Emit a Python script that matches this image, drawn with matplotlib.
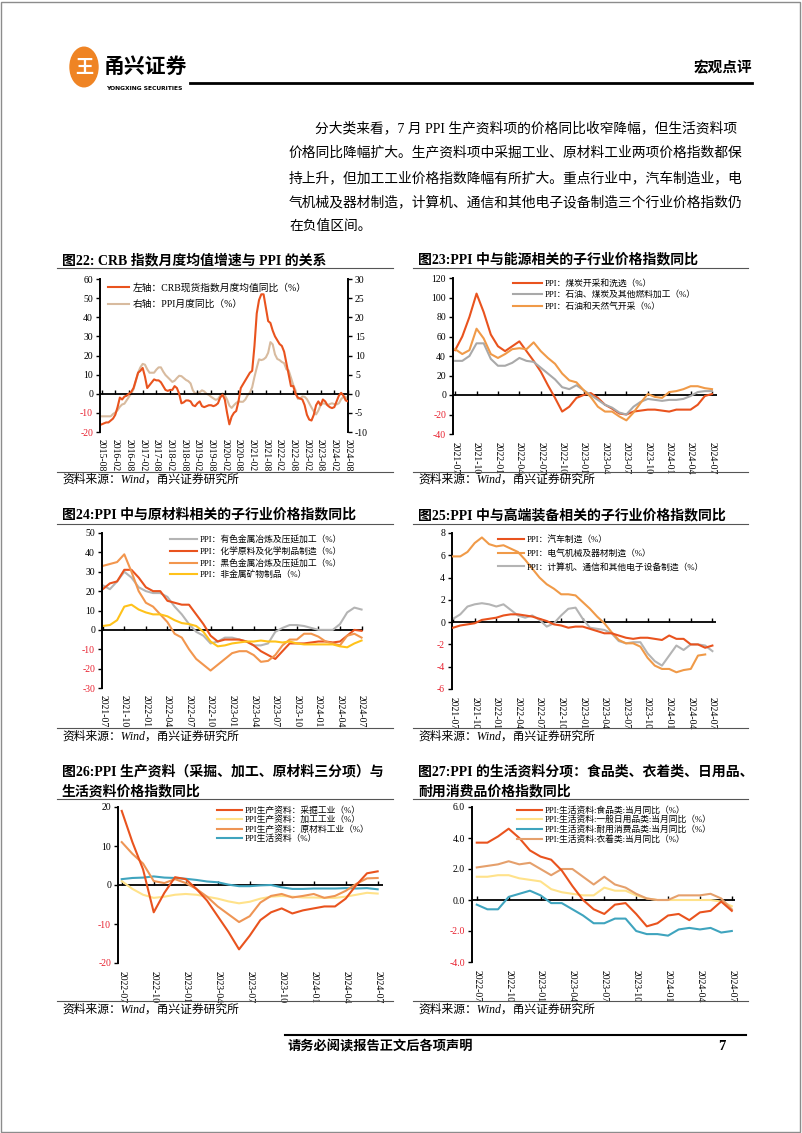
import matplotlib
matplotlib.use('Agg')
import matplotlib.pyplot as plt
import numpy as np
from matplotlib.font_manager import FontProperties
from matplotlib.patches import Circle, Rectangle
from matplotlib.lines import Line2D

W, H = 802, 1133
FONTS = ['Liberation Serif', 'Noto Sans CJK SC']
plt.rcParams['font.family'] = FONTS
plt.rcParams['axes.unicode_minus'] = False

RED = '#E9531E'
TAN = '#D8BB9F'
GRAY = '#A9A9A9'
ORANGE = '#F09A48'
ORANGE2 = '#EE9555'
YELLOW = '#FFC21A'
LYELLOW = '#FFE28A'
TEAL = '#3FA4BE'
NEG = '#E8202E'

# ---------------- data ----------------
# 图22: monthly 2015-08 .. 2024-08
crb_yoy = [-16, -15.5, -15, -15, -14,
           -13, -11, -7, -2, -3, -1.5, -1, 0, 1, 3, 7, 11,
           12, 13.5, 9, 3, 4.5, 6, 7.5, 7, 7, 6, 4, 2,
           1.5, 2, 2, 4, 3, 0, -5, -4.5, -3.5, -3.5, -4, -6,
           -6.5, -5, -4, -6.5, -7, -6.5, -6, -6, -6.5, -6, -5, -2,
           -0.5, -3, -10, -16, -12, -10, -9, -4, 3, 5, 7, 9,
           11, 12, 25, 42, 49, 52, 52, 45, 38, 37, 33, 30,
           28, 26, 25, 22, 16, 10, 4, 4, 0, -2, -2.5, -3,
           -6, -11, -13.5, -14, -11, -6, -4, -6, -3, -4, -6, -7,
           -7.5, -7, -4, -1, 0.5, -1, -3.5, -4]
ppi_yoy = [-5.9, -5.9, -5.9, -5.9, -5.9,
           -5.3, -4.9, -4.3, -3.4, -2.8, -2.6, -1.7, -0.8, 0.1, 1.2, 3.3, 5.5,
           6.9, 7.8, 7.6, 6.4, 5.5, 5.5, 5.5, 6.3, 6.9, 6.9, 5.8, 4.9,
           4.3, 3.7, 3.1, 3.4, 4.1, 4.7, 4.6, 4.1, 3.6, 3.3, 2.7, 0.9,
           0.1, 0.1, 0.4, 0.9, 0.6, 0.0, -0.3, -0.8, -1.2, -1.6, -1.4, -0.5,
           0.1, -0.4, -1.5, -3.1, -3.7, -3.0, -2.4, -2.0, -2.1, -2.1, -1.5, -0.4,
           0.3, 1.7, 4.4, 6.8, 9.0, 8.8, 9.0, 9.5, 10.7, 13.5, 12.9, 10.3,
           9.1, 8.8, 8.3, 8.0, 6.4, 6.1, 4.2, 2.3, 0.9, -1.3, -1.3, -0.7,
           -0.8, -1.4, -2.5, -3.6, -4.6, -5.4, -4.4, -3.0, -2.5, -2.6, -3.0, -2.7,
           -2.5, -2.7, -2.8, -2.5, -1.4, -0.8, -0.8, -1.8]
labels22 = ['2015-08', '2016-02', '2016-08', '2017-02', '2017-08', '2018-02', '2018-08',
            '2019-02', '2019-08', '2020-02', '2020-08', '2021-02', '2021-08', '2022-02',
            '2022-08', '2023-02', '2023-08', '2024-02', '2024-08']

# 图23-25: monthly 2021-07 .. 2024-07
labels_21 = ['2021-07', '2021-10', '2022-01', '2022-04', '2022-07', '2022-10', '2023-01',
             '2023-04', '2023-07', '2023-10', '2024-01', '2024-04', '2024-07']
coal = [46, 60, 80, 104, 85, 62,
        50, 45, 50, 55, 45, 35, 24, 10, -3, -17, -12, -3,
        0, 2, -3, -10, -14, -19, -20, -17, -16, -15, -15, -16,
        -17, -15, -15, -15, -10, -1, 1]
petro_proc = [35, 35, 40, 53, 53, 37,
              30, 30, 33, 38, 35, 34, 28, 22, 16, 8, 6, 10,
              5, 0, -5, -10, -13, -18, -20, -12, -7, -4, -5, -6,
              -5, -5, -4, -1, 3, 4, 4]
oil_gas = [47, 42, 46, 68, 58, 42,
           38, 42, 47, 48, 47, 54, 45, 38, 32, 22, 15, 13,
           5, -2, -12, -17, -17, -22, -26, -18, -8, 1, -2, -3,
           3, 4, 6, 9, 9, 7, 6]

nonferrous = [23, 21, 25, 30, 27, 22,
              20, 19, 19, 17, 12, 8, 3, -1, -3, -7, -6, -4,
              -4, -5, -6, -8, -8, -7, -1, 1, 2.5, 2.5, 2, 1,
              0, 0, 0, 3, 9, 11.5, 10.5]
chemical = [21, 24, 25, 31, 31, 27,
            22, 20, 20, 15, 14, 13, 13, 8, 3, -3, -6, -5,
            -5, -5, -6, -8, -11, -13, -15, -11, -7, -7, -7, -6.5,
            -6, -6, -6.5, -6, -3, 0, -0.5]
ferrous = [33, 34, 35, 39, 30, 20,
           14, 12, 8, 4, -2, -4, -10, -15, -18, -21, -18, -15,
           -12, -11, -11, -13, -16.5, -16, -13, -8, -5, -5, -2, -2,
           -3.5, -6, -7, -8, -3, -2, -4]
nonmetal = [2, 2.5, 5, 12, 13, 10.5,
            9, 8, 8, 7, 5, 3.5, 3, 2, -1, -6, -8.5, -8,
            -7, -6.5, -6, -6, -5.5, -6, -6, -6.5, -6, -7, -7.5, -7.5,
            -7.5, -7.5, -7.5, -8.5, -9, -7, -5.5]

auto = [-0.5, -0.3, -0.2, -0.1, 0.2, 0.3,
        0.4, 0.6, 0.7, 0.7, 0.6, 0.5, 0.3, 0.1, -0.2, -0.3, -0.5, -0.4,
        -0.4, -0.6, -0.8, -1.0, -1.0, -1.2, -1.4, -1.5, -1.4, -1.4, -1.5, -1.6,
        -1.2, -1.5, -1.5, -2.0, -2.0, -2.3, -2.1]
electrical = [5.9, 5.9, 6.3, 7.1, 7.6, 7.0,
              6.8, 6.9, 6.6, 6.3, 5.6, 4.8, 4.0, 3.4, 3.0, 2.5, 2.5, 2.4,
              1.8, 1.2, 0.5, -0.1, -0.9, -1.6, -1.9, -1.9, -2.2, -3.2, -3.9, -4.2,
              -4.2, -4.5, -4.3, -4.2, -3.0, -2.9, np.nan]
computer = [0.3, 0.7, 1.4, 1.6, 1.7, 1.6,
            1.4, 1.6, 1.1, 0.6, 0.4, 0.6, 0.2, -0.4, -0.1, 0.6, 1.2, 1.3,
            0.3, -0.5, -0.6, -0.7, -1.0, -1.7, -1.9, -1.8, -1.8, -2.8, -3.5, -3.9,
            -3.0, -2.1, -2.5, -2.0, -2.0, -2.1, -2.6]

# 图26-27: monthly 2022-07 .. 2024-07
labels_22 = ['2022-07', '2022-10', '2023-01', '2023-04', '2023-07', '2023-10',
             '2024-01', '2024-04', '2024-07']
mining = [19, 11, 4, -7, -2, 2, 1.5, -1, -4, -8, -12, -16.5, -13,
          -9, -7, -6, -7.3, -6.5, -6, -5.5, -5.5, -3.5, 0, 3, 3.5]
processing = [1, -1, -2.5, -3.3, -3, -2.5, -2.3, -2.5, -3, -3.5, -4.2, -4.7, -4.3,
              -3.5, -3, -2.8, -3, -3.2, -3.2, -3.3, -3.3, -3, -2.5, -2, -2.2]
raw_mat = [11, 8, 5.5, 1, 0.5, 1.5, 0.5, -1, -3, -5.5, -7.5, -9.5, -8,
           -4.5, -2.8, -2.3, -3.2, -2.8, -2.3, -3.3, -2.8, -1.5, 0.3, 1.7, 1.8]
consumer = [1.5, 1.8, 1.9, 2.2, 1.9, 1.8, 1.6, 1.3, 0.9, 0.7, 0.1, -0.3, -0.3,
            -0.1, 0.0, -0.6, -1.0, -1.0, -0.9, -0.9, -0.9, -0.8, -0.9, -0.8, -1.1]

food = [3.7, 3.7, 4.1, 4.6, 4.0, 3.2, 2.8, 2.6, 1.9, 0.9, 0.0, -0.6, -0.9,
        -0.3, -0.2, -0.9, -1.7, -1.5, -1.0, -0.9, -1.3, -0.8, -0.7, -0.1, -0.7]
daily = [1.5, 1.5, 1.6, 1.6, 1.4, 1.3, 1.2, 0.7, 0.5, 0.4, 0.3, 0.3, 0.8,
         0.6, 0.6, 0.3, 0.1, 0.0, 0.0, 0.0, 0.0, 0.0, 0.0, -0.1, -0.4]
durable = [-0.3, -0.6, -0.6, 0.2, 0.4, 0.6, 0.3, -0.2, -0.2, -0.6, -1.0, -1.5, -1.5,
           -1.2, -1.2, -2.0, -2.2, -2.2, -2.3, -1.9, -1.8, -1.9, -1.8, -2.1, -2.0]
clothing = [2.1, 2.2, 2.3, 2.5, 2.3, 2.4, 2.0, 1.6, 2.0, 2.0, 1.5, 1.0, 1.5,
            1.0, 0.8, 0.4, 0.1, 0.0, 0.0, 0.3, 0.3, 0.3, 0.4, 0.1, -0.6]

# ---------------- figure ----------------
fig = plt.figure(figsize=(W / 100, H / 100), dpi=100)


def px_axes(l, t, r, b):
    return fig.add_axes([l / W, 1 - b / H, (r - l) / W, (b - t) / H])


def ftext(x, y, s, **kw):
    kw.setdefault('va', 'center')
    fig.text(x / W, 1 - y / H, s, **kw)


def hline(x0, x1, y, lw=0.8, color='black'):
    fig.add_artist(Line2D([x0 / W, x1 / W], [1 - y / H, 1 - y / H], lw=lw, color=color))


def setup(ax, n, xlim, ylim, ystep, label_step, xlabels, fmt='{:g}', xpad=5):
    ax.set_xlim(*xlim)
    ax.set_ylim(*ylim)
    ax.patch.set_visible(False)
    for s in ['top', 'right', 'bottom']:
        ax.spines[s].set_visible(False)
    ax.spines['left'].set_linewidth(1.4)
    yt = np.arange(ylim[0], ylim[1] + ystep / 2, ystep)
    ax.set_yticks(yt)
    ax.set_yticklabels([fmt.format(v) for v in yt])
    ax.tick_params(axis='y', direction='out', length=3, width=1, labelsize=7, pad=2)
    for lab, v in zip(ax.get_yticklabels(), yt):
        if v < 0:
            lab.set_color(NEG)
    xt = np.arange(0, n, label_step)
    ax.set_xticks(xt)
    ax.set_xticklabels(xlabels, rotation=-90, fontsize=7)
    ax.tick_params(axis='x', length=0, pad=xpad)
    ax.axhline(0, color='black', lw=1.3, zorder=1)
    ax.plot(xt, np.zeros(len(xt)), ls='none', marker=2, ms=3, mew=1, color='black',
            zorder=1, clip_on=False)


def legend(ax, handles, labels, x, y, hl, spacing, size=6.3):
    ax.legend(handles, labels, loc='upper left', bbox_to_anchor=(x / W, 1 - y / H),
              bbox_transform=fig.transFigure, frameon=False, handlelength=hl,
              handletextpad=0.3, labelspacing=spacing, borderpad=0, borderaxespad=0,
              prop=FontProperties(family=FONTS, size=size))


LW = 1.5

# page border
fig.add_artist(Rectangle((1 / W, 1 / H), 799 / W, 1130 / H, transform=fig.transFigure,
                         fill=False, ec='#8c8c8c', lw=1))

# header
fig.add_artist(Circle((84 / W, 1 - 67 / H), 14 / W, transform=fig.transFigure,
                      color='#EF8424'))
ftext(84, 67, '王', ha='center', color='white', fontsize=13, fontweight='bold',
      family='Noto Sans CJK SC')
ftext(104, 66, '甬兴证券', fontsize=15, fontweight='bold', family='Noto Sans CJK SC')
ftext(106, 89, 'YONGXING SECURITIES', fontsize=4.3, fontweight='bold', family='DejaVu Sans')
hline(190, 752, 83, lw=2)
ftext(752, 68, '宏观点评', ha='right', fontsize=10.5, fontweight='bold')

# paragraph
para = ['分大类来看，7 月 PPI 生产资料项的价格同比收窄降幅，但生活资料项',
        '价格同比降幅扩大。生产资料项中采掘工业、原材料工业两项价格指数都保',
        '持上升，但加工工业价格指数降幅有所扩大。重点行业中，汽车制造业，电',
        '气机械及器材制造，计算机、通信和其他电子设备制造三个行业价格指数仍',
        '在负值区间。']
para_y = [128, 153, 178, 202, 226]
for i, (s, yy) in enumerate(zip(para, para_y)):
    ftext(315 if i == 0 else 289, yy, s, fontsize=9.9)

# titles, rules, sources
TSZ = 10
ftext(62, 260, '图22: CRB 指数月度均值增速与 PPI 的关系', fontsize=TSZ, fontweight='bold')
ftext(418, 260, '图23:PPI 中与能源相关的子行业价格指数同比', fontsize=TSZ, fontweight='bold')
ftext(62, 515, '图24:PPI 中与原材料相关的子行业价格指数同比', fontsize=TSZ, fontweight='bold')
ftext(418, 515, '图25:PPI 中与高端装备相关的子行业价格指数同比', fontsize=TSZ, fontweight='bold')
ftext(62, 772, '图26:PPI 生产资料（采掘、加工、原材料三分项）与', fontsize=TSZ, fontweight='bold')
ftext(62, 792, '生活资料价格指数同比', fontsize=TSZ, fontweight='bold')
ftext(418, 772, '图27:PPI 的生活资料分项：食品类、衣着类、日用品、', fontsize=TSZ, fontweight='bold')
ftext(418, 792, '耐用消费品价格指数同比', fontsize=TSZ, fontweight='bold')
for yy in (268, 524, 799):
    hline(57, 393, yy, lw=0.8, color='#555555')
    hline(413, 748, yy, lw=0.8, color='#555555')
for yy, ty in ((472, 480), (728, 737), (1001, 1010)):
    hline(57, 393, yy, lw=0.8, color='#555555')
    hline(413, 748, yy, lw=0.8, color='#555555')
    ftext(62, ty, '资料来源：Wind，甬兴证券研究所', fontsize=8.5, style='italic')
    ftext(418, ty, '资料来源：Wind，甬兴证券研究所', fontsize=8.5, style='italic')

# footer
hline(285, 746, 1035, lw=1.5)
ftext(288, 1047, '请务必阅读报告正文后各项声明', fontsize=9.5, fontweight='bold')
ftext(718, 1047, '7', fontsize=10.5, fontweight='bold')

# ---------- 图22 ----------
ax = px_axes(100, 279, 348, 432)
x22 = np.arange(len(crb_yoy))
setup(ax, len(crb_yoy), (-0.7, 108), (-20, 60), 10, 6, labels22)
ax2 = ax.twinx()
ax2.set_ylim(-10, 30)
ax2.set_yticks(np.arange(-10, 31, 5))
for s in ['top', 'left', 'bottom']:
    ax2.spines[s].set_visible(False)
ax2.spines['right'].set_linewidth(1.4)
ax2.tick_params(axis='y', direction='out', length=3, width=1, labelsize=7, pad=2)
ax.set_zorder(ax2.get_zorder() + 1)
h2, = ax2.plot(x22, ppi_yoy, color=TAN, lw=LW)
h1, = ax.plot(x22, crb_yoy, color=RED, lw=LW)
legend(ax, [h1, h2], ['左轴：CRB现货指数月度均值同比（%）', '右轴：PPI月度同比（%）'],
       108, 283, 2.2, 0.7, size=7)

# ---------- 图23 ----------
ax = px_axes(453, 278, 717, 434)
x = np.arange(len(coal))
setup(ax, len(coal), (-0.3, 36.7), (-40, 120), 20, 3, labels_21, xpad=6)
ha, = ax.plot(x, coal, color=RED, lw=LW)
hb, = ax.plot(x, petro_proc, color=GRAY, lw=LW)
hc, = ax.plot(x, oil_gas, color=ORANGE, lw=LW)
legend(ax, [ha, hb, hc], ['PPI：煤炭开采和洗选（%）', 'PPI：石油、煤炭及其他燃料加工（%）',
                          'PPI：石油和天然气开采（%）'], 513, 279, 3.3, 0.35)

# ---------- 图24 ----------
ax = px_axes(102, 533, 363, 688)
setup(ax, len(chemical), (-0.1, 36.2), (-30, 50), 10, 3, labels_21, xpad=5)
ha, = ax.plot(x, nonferrous, color='#B4B4B4', lw=LW)
hb, = ax.plot(x, chemical, color=RED, lw=LW)
hc, = ax.plot(x, ferrous, color='#F2964E', lw=LW)
hd, = ax.plot(x, nonmetal, color=YELLOW, lw=LW)
legend(ax, [ha, hb, hc, hd], ['PPI：有色金属冶炼及压延加工（%）', 'PPI：化学原料及化学制品制造（%）',
                              'PPI：黑色金属冶炼及压延加工（%）', 'PPI：非金属矿物制品（%）'],
       170, 535, 3.1, 0.35)

# ---------- 图25 ----------
ax = px_axes(452, 533, 716, 689)
setup(ax, len(auto), (-0.15, 36.5), (-6, 8), 2, 3, labels_21, xpad=6)
ha, = ax.plot(x, auto, color=RED, lw=LW, zorder=4)
hb, = ax.plot(x, electrical, color=ORANGE, lw=LW, zorder=3)
hc, = ax.plot(x, computer, color='#B4B4B4', lw=LW, zorder=2)
legend(ax, [ha, hb, hc], ['PPI：汽车制造（%）', 'PPI：电气机械及器材制造（%）',
                          'PPI：计算机、通信和其他电子设备制造（%）'], 498, 535, 3.0, 0.55)

# ---------- 图26 ----------
ax = px_axes(118, 807, 383, 963)
x26 = np.arange(len(mining))
setup(ax, len(mining), (-0.35, 24.5), (-20, 20), 10, 3, labels_22, xpad=6)
ha, = ax.plot(x26, mining, color=RED, lw=LW, zorder=4)
hb, = ax.plot(x26, processing, color=LYELLOW, lw=LW, zorder=2)
hc, = ax.plot(x26, raw_mat, color=ORANGE2, lw=LW, zorder=3)
hd, = ax.plot(x26, consumer, color=TEAL, lw=LW, zorder=2)
legend(ax, [ha, hb, hc, hd], ['PPI生产资料：采掘工业（%）', 'PPI生产资料：加工工业（%）',
                              'PPI生产资料：原材料工业（%）', 'PPI生活资料（%）'],
       217, 806, 2.9, 0.1)

# ---------- 图27 ----------
ax = px_axes(472, 807, 735, 962)
setup(ax, len(food), (-0.45, 24.3), (-4, 6), 2, 3, labels_22, fmt='{:.1f}', xpad=6)
ha, = ax.plot(x26, food, color=RED, lw=LW, zorder=4)
hb, = ax.plot(x26, daily, color=LYELLOW, lw=LW, zorder=2)
hc, = ax.plot(x26, durable, color=TEAL, lw=LW, zorder=3)
hd, = ax.plot(x26, clothing, color='#E5A06C', lw=LW, zorder=3)
legend(ax, [ha, hb, hc, hd], ['PPI:生活资料:食品类:当月同比（%）', 'PPI:生活资料:一般日用品类:当月同比（%）',
                              'PPI:生活资料:耐用消费品类:当月同比（%）', 'PPI:生活资料:衣着类:当月同比（%）'],
       517, 806, 2.9, 0.12)

fig.savefig('out.png', dpi=100)
